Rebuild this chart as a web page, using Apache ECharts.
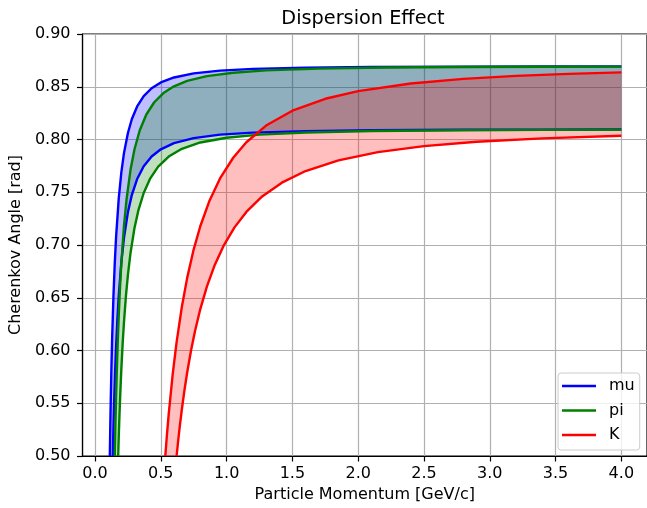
<!DOCTYPE html>
<html><head><meta charset="utf-8">
<script src="https://cdn.jsdelivr.net/npm/echarts@6/dist/echarts.min.js"></script>
<style>html,body{margin:0;padding:0;background:#fff}#c{width:647px;height:508px}</style>
</head><body><div id="c"></div>
<script>
// Tick values
const xTicks = [0, 0.5, 1, 1.5, 2, 2.5, 3, 3.5, 4];

// mu: upper and lower bound curves (momentum, angle)
const muHiP = [0.1125,0.116,0.12,0.125,0.13,0.14,0.15,0.16,0.18,0.20,0.22,0.25,0.28,0.32,0.37,0.43,0.5,0.6,0.75,0.95,1.2,1.6,2.1,2.8,3.4,4.0];
const muHiT = [0.5000,0.5281,0.5559,0.5855,0.6108,0.6514,0.6827,0.7074,0.7437,0.7689,0.7871,0.8062,0.8194,0.8313,0.8411,0.8486,0.8541,0.8588,0.8627,0.8653,0.8669,0.8681,0.8687,0.8691,0.8692,0.8693];
const muLoP = [0.135,0.138,0.142,0.147,0.153,0.16,0.17,0.18,0.20,0.22,0.25,0.28,0.32,0.37,0.43,0.5,0.6,0.75,0.95,1.2,1.6,2.1,2.8,3.4,4.0];
const muLoT = [0.5000,0.5166,0.5365,0.5583,0.5809,0.6033,0.6298,0.6512,0.6836,0.7068,0.7311,0.7476,0.7625,0.7746,0.7839,0.7907,0.7966,0.8013,0.8046,0.8065,0.8079,0.8087,0.8092,0.8094,0.8095];

// pi
const piHiP = [0.150,0.154,0.159,0.165,0.172,0.18,0.19,0.20,0.22,0.24,0.27,0.30,0.34,0.39,0.45,0.52,0.6,0.7,0.85,1.05,1.3,1.7,2.2,2.8,3.4,4.0];
const piHiT = [0.5000,0.5243,0.5510,0.5786,0.6060,0.6325,0.6600,0.6827,0.7179,0.7437,0.7715,0.7908,0.8088,0.8237,0.8353,0.8440,0.8504,0.8555,0.8601,0.8633,0.8655,0.8672,0.8682,0.8687,0.8690,0.8691];
const piLoP = [0.176,0.18,0.185,0.192,0.20,0.21,0.22,0.235,0.25,0.27,0.30,0.33,0.37,0.42,0.48,0.56,0.66,0.8,1.0,1.25,1.6,2.1,2.8,3.4,4.0];
const piLoT = [0.5000,0.5170,0.5360,0.5594,0.5823,0.6065,0.6268,0.6517,0.6716,0.6927,0.7162,0.7331,0.7493,0.7632,0.7743,0.7838,0.7912,0.7972,0.8017,0.8046,0.8066,0.8080,0.8088,0.8091,0.8093];

// K
const kHiP = [0.534,0.545,0.56,0.59,0.62,0.66,0.70,0.75,0.80,0.87,0.95,1.05,1.15,1.3,1.5,1.75,2.0,2.4,2.8,3.2,3.6,4.0];
const kHiT = [0.5000,0.5177,0.5397,0.5771,0.6079,0.6415,0.6686,0.6959,0.7178,0.7420,0.7631,0.7827,0.7974,0.8132,0.8273,0.8386,0.8458,0.8531,0.8575,0.8603,0.8622,0.8636];
const kLoP = [0.620,0.632,0.645,0.66,0.68,0.70,0.73,0.76,0.80,0.85,0.91,0.98,1.06,1.15,1.27,1.42,1.6,1.85,2.15,2.5,2.9,3.4,4.0];
const kLoT = [0.5000,0.5145,0.5290,0.5443,0.5626,0.5789,0.6002,0.6185,0.6393,0.6606,0.6811,0.6999,0.7167,0.7313,0.7460,0.7591,0.7701,0.7802,0.7880,0.7937,0.7979,0.8011,0.8035];

const FONT = 'DejaVu Sans';
const pts = (xs, ys) => xs.map((x, i) => [x, ys[i]]);

function band(name, hp, ht, lp, lt, fill) {
  return {
    type: 'custom', name: name, coordinateSystem: 'cartesian2d',
    data: [[1, 0.7]], z: 1, silent: true, clip: true,
    renderItem: function (params, api) {
      const p = [];
      for (let i = 0; i < hp.length; i++) p.push(api.coord([hp[i], ht[i]]));
      for (let i = lp.length - 1; i >= 0; i--) p.push(api.coord([lp[i], lt[i]]));
      return { type: 'polygon', shape: { points: p }, style: { fill: fill, stroke: null } };
    }
  };
}
function line(name, xs, ys, color) {
  return {
    type: 'line', name: name, data: pts(xs, ys), symbol: 'none', z: 3,
    lineStyle: { color: color, width: 2.4 }, itemStyle: { color: color },
    animation: false, clip: true
  };
}

const chart = echarts.init(document.getElementById('c'), null, { renderer: 'canvas' });
chart.setOption({
  animation: false,
  backgroundColor: '#ffffff',
  textStyle: { fontFamily: FONT },
  title: {
    text: 'Dispersion Effect', left: 358, top: 4, textAlign: 'center',
    textStyle: { fontFamily: FONT, fontSize: 19.3, fontWeight: 'normal', color: '#000' }
  },
  legend: {
    data: ['mu', 'pi', 'K'], orient: 'vertical', left: 558, top: 373,
    icon: 'rect', itemWidth: 34, itemHeight: 2.4, itemGap: 6.5,
    padding: [4, 5, 6, 4],
    backgroundColor: 'rgba(255,255,255,0.8)', borderColor: '#cccccc', borderWidth: 1, borderRadius: 3,
    textStyle: { fontFamily: FONT, fontSize: 16, color: '#000', lineHeight: 18, padding: [0, 0, 0, 8] }
  },
  grid: { left: 78, top: 34, width: 572, height: 424, show: true, borderColor: '#000', borderWidth: 1.2, backgroundColor: 'transparent' },
  xAxis: {
    type: 'value', min: -0.095, max: 4.195,
    name: 'Particle Momentum [GeV/c]', nameLocation: 'middle', nameGap: 31,
    nameTextStyle: { fontFamily: FONT, fontSize: 16, color: '#000' },
    axisLine: { show: true, onZero: false, lineStyle: { color: '#000', width: 1.2 } },
    axisTick: { show: true, inside: false, length: 5.5, customValues: xTicks, lineStyle: { color: '#000', width: 1.2 } },
    axisLabel: { customValues: xTicks, margin: 10, fontFamily: FONT, fontSize: 16, color: '#000', formatter: v => v.toFixed(1) },
    splitLine: { show: true, lineStyle: { color: '#b0b0b0', width: 1.2 } }
  },
  yAxis: {
    type: 'value', min: 0.5, max: 0.9, interval: 0.05,
    name: 'Cherenkov Angle [rad]', nameLocation: 'middle', nameGap: 54,
    nameTextStyle: { fontFamily: FONT, fontSize: 16, color: '#000' },
    axisLine: { show: true, onZero: false, lineStyle: { color: '#000', width: 1.2 } },
    axisTick: { show: true, inside: false, length: 5.5, lineStyle: { color: '#000', width: 1.2 } },
    axisLabel: { margin: 12, fontFamily: FONT, fontSize: 16, color: '#000', formatter: v => v.toFixed(2) },
    splitLine: { show: true, lineStyle: { color: '#b0b0b0', width: 1.2 } }
  },
  series: [
    band('muBand', muHiP, muHiT, muLoP, muLoT, 'rgba(0,0,255,0.25)'),
    band('piBand', piHiP, piHiT, piLoP, piLoT, 'rgba(0,128,0,0.25)'),
    band('kBand', kHiP, kHiT, kLoP, kLoT, 'rgba(255,0,0,0.25)'),
    line('mu', muHiP, muHiT, '#0000ff'),
    line('mu', muLoP, muLoT, '#0000ff'),
    line('pi', piHiP, piHiT, '#008000'),
    line('pi', piLoP, piLoT, '#008000'),
    line('K', kHiP, kHiT, '#ff0000'),
    line('K', kLoP, kLoT, '#ff0000')
  ]
});
</script></body></html>
